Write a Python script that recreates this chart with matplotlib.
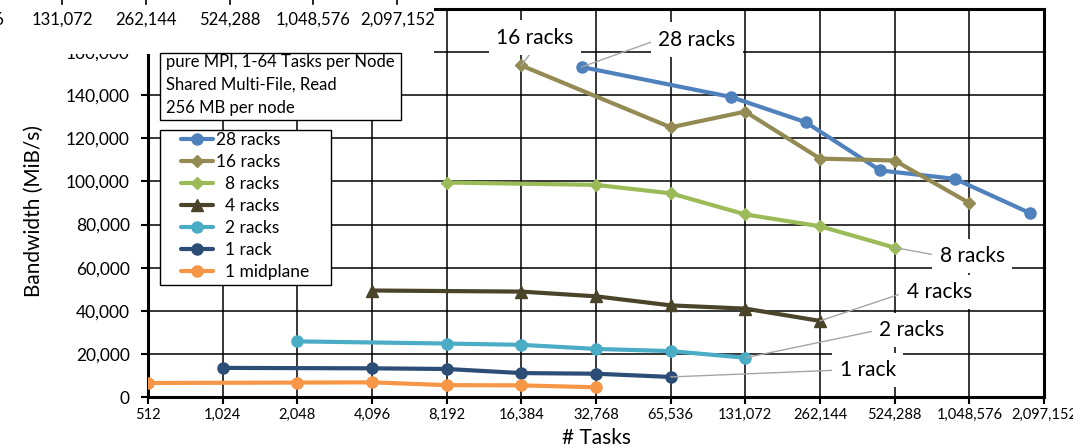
import numpy as np
import matplotlib.pyplot as plt
from matplotlib.patches import Rectangle
from matplotlib.lines import Line2D
from matplotlib.ticker import FixedLocator, FuncFormatter, NullLocator

plt.rcParams['font.family'] = ['Lato', 'DejaVu Sans']

# read bandwidth (MiB/s) over number of tasks, per partition size
tasks_28 = [28672, 114688, 229376, 458752, 917504, 1835008]
bw_28 = [153100, 139200, 127500, 105100, 101200, 85400]

tasks_16 = [16384, 65536, 131072, 262144, 524288, 1048576]
bw_16 = [153800, 125100, 132400, 110600, 109700, 90000]

tasks_8 = [8192, 32768, 65536, 131072, 262144, 524288]
bw_8 = [99500, 98400, 94500, 84700, 79200, 69300]

tasks_4 = [4096, 16384, 32768, 65536, 131072, 262144]
bw_4 = [49400, 48900, 46700, 42500, 41000, 35300]

tasks_2 = [2048, 8192, 16384, 32768, 65536, 131072]
bw_2 = [25800, 24800, 24200, 22300, 21300, 18200]

tasks_1 = [1024, 4096, 8192, 16384, 32768, 65536]
bw_1 = [13500, 13300, 13000, 11100, 10800, 9300]

tasks_mid = [512, 2048, 4096, 8192, 16384, 32768]
bw_mid = [6500, 6700, 6800, 5500, 5400, 4500]

legend_names = ['28 racks', '16 racks', '  8 racks', '  4 racks', '  2 racks', '  1 rack', '  1 midplane']
x_ticks = [2 ** k for k in range(9, 22)]
y_ticks = list(range(0, 180001, 20000))
info_lines = ['pure MPI, 1-64 Tasks per Node', 'Shared Multi-File, Read', '256 MB per node']
top_tick_labels = ['65,536', '131,072', '262,144', '524,288', '1,048,576', '2,097,152']

W, H = 1073, 447
fig = plt.figure(figsize=(W / 100, H / 100), dpi=100)
ax = fig.add_axes([148 / W, 1 - 397 / H, (1044 - 148) / W, (397 - 9) / H])

series = [
    (tasks_28, bw_28, '#4F81BD', 'o', 8),
    (tasks_16, bw_16, '#948A54', 'D', 6.5),
    (tasks_8, bw_8, '#9BBB59', 'D', 6.5),
    (tasks_4, bw_4, '#4A452A', '^', 8),
    (tasks_2, bw_2, '#4BACC6', 'o', 8),
    (tasks_1, bw_1, '#2C4D75', 'o', 8),
    (tasks_mid, bw_mid, '#F79646', 'o', 8),
]
for (tx, bw, col, mk, ms), name in zip(series, legend_names):
    ax.plot(tx, bw, color=col, lw=3, marker=mk, ms=ms, mec=col, label=name,
            solid_capstyle='round', zorder=3)

ax.set_xscale('log', base=2)
ax.set_xlim(512, 2097152)
ax.set_ylim(0, 180000)
ax.xaxis.set_major_locator(FixedLocator(x_ticks))
ax.xaxis.set_minor_locator(NullLocator())
ax.yaxis.set_major_locator(FixedLocator(y_ticks))
fmt = FuncFormatter(lambda v, p: f'{v:,.0f}')
ax.xaxis.set_major_formatter(fmt)
ax.yaxis.set_major_formatter(fmt)

ax.grid(True, color='black', lw=1.1)
ax.set_axisbelow(True)
for s in ax.spines.values():
    s.set_linewidth(2.2)
    s.set_color('black')
ax.tick_params(axis='x', labelsize=10.5, length=5, width=1.5, pad=3)
ax.tick_params(axis='y', labelsize=12.5, length=5, width=1.5, pad=8)

ax.set_xlabel('# Tasks', fontsize=15, va='top')
ax.xaxis.set_label_coords(0.5, -0.08)
ax.set_ylabel('Bandwidth (MiB/s)', fontsize=15)
ax.yaxis.set_label_coords(-0.116, 0.48)

# legend frame drawn separately so the padding can be wider at the sides
fig.add_artist(Rectangle((160 / W, 1 - 285 / H), (331 - 160) / W, (285 - 130) / H,
                         transform=fig.transFigure, fc='white', ec='black',
                         lw=1.0, zorder=5))
leg = ax.legend(loc='upper left', bbox_to_anchor=(181 / W, 1 - 132 / H),
                bbox_transform=fig.transFigure, fontsize=12.5, frameon=False,
                borderaxespad=0, borderpad=0, handlelength=1.85,
                handletextpad=0.15, labelspacing=0.35)
leg.set_zorder(6)
fig.add_artist(leg)

# series callouts with grey leader lines
callouts = [
    ('16 racks', tasks_16[0], bw_16[0], 18560, 166700, (0.5, 0.0)),
    ('28 racks', tasks_28[0], bw_28[0], 83500, 165800, (0.0, 0.5)),
    ('8 racks', tasks_8[-1], bw_8[-1], 1078000, 65500, (0.0, 0.5)),
    ('4 racks', tasks_4[-1], bw_4[-1], 794000, 48800, (0.0, 0.5)),
    ('2 racks', tasks_2[-1], bw_2[-1], 613000, 31100, (0.0, 0.5)),
    ('1 rack', tasks_1[-1], bw_1[-1], 408000, 12500, (0.0, 0.5)),
]
for txt, px, py, tx, ty, rp in callouts:
    ax.annotate(txt, xy=(px, py), xytext=(tx, ty), textcoords='data',
                ha='center', va='center', fontsize=15, zorder=5,
                bbox=dict(boxstyle='square,pad=0.35', fc='white', ec='none'),
                arrowprops=dict(arrowstyle='-', color='#A6A6A6', lw=1.0,
                                shrinkA=0, shrinkB=0, relpos=rp))

# strip of a neighbouring axis along the top left
fig.add_artist(Rectangle((0, 1 - 54 / H), 434 / W, 54 / H,
                         transform=fig.transFigure, fc='white', ec='none', zorder=8))
top_x = -21.8 + 83.8 * np.arange(len(top_tick_labels))
for xc, lab in zip(top_x, top_tick_labels):
    fig.text(xc / W, 1 - 20 / H, lab, fontsize=12, ha='center', va='center', zorder=9)
    fig.add_artist(Line2D([xc / W, xc / W], [1, 1 - 4 / H], transform=fig.transFigure,
                          color='black', lw=1.2, zorder=9))

# info box
fig.add_artist(Rectangle((160 / W, 1 - 120 / H), (401 - 160) / W, (120 - 53) / H,
                         transform=fig.transFigure, fc='white', ec='black',
                         lw=1.0, zorder=10))
for k, line in enumerate(info_lines):
    fig.text(166 / W, 1 - (62 + 23 * k) / H, line, fontsize=12,
             ha='left', va='center', zorder=11)

fig.savefig('out.png', dpi=100)
